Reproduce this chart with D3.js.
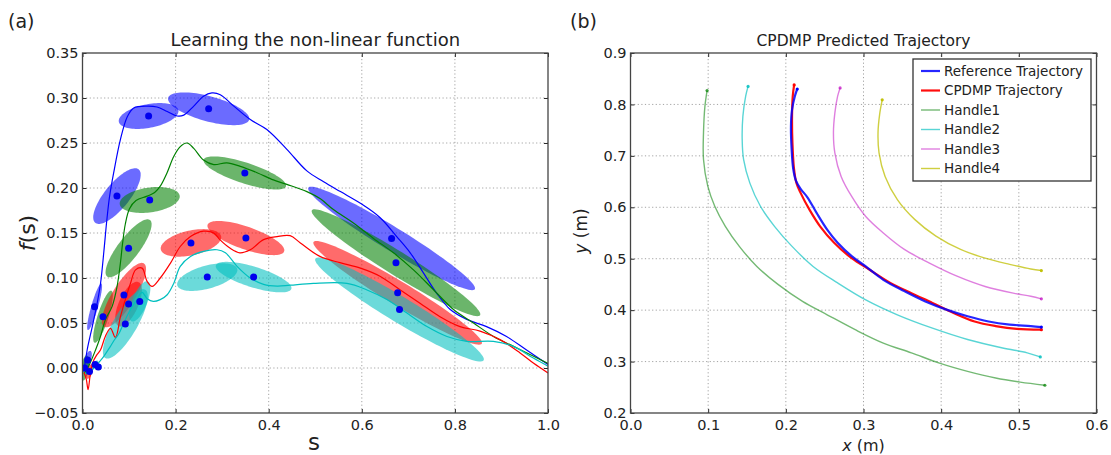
<!DOCTYPE html>
<html>
<head>
<meta charset="utf-8">
<script src="https://cdn.jsdelivr.net/npm/d3@7"></script>
<style>
    body { margin: 0; background: #fff; }
    text { font-family: "DejaVu Sans", sans-serif; fill: #222; }
</style>
</head>
<body>
<svg id="chart" width="1111" height="455"></svg>
<script>

// ---- panel (a): learned forcing terms, [s, f(s)] ----
const blueCurve = [[0.003,-0.004],[0.010,0.020],[0.021,0.046],[0.0315,0.072],[0.039,0.095],[0.046,0.13],[0.052,0.163],[0.058,0.19],[0.067,0.217],[0.0815,0.254],[0.096,0.279],[0.110,0.289],[0.139,0.291],[0.160,0.290],[0.182,0.285],[0.203,0.280],[0.2175,0.281],[0.239,0.291],[0.260,0.302],[0.278,0.3056],[0.296,0.3037],[0.325,0.291],[0.3605,0.276],[0.396,0.265],[0.439,0.243],[0.482,0.219],[0.518,0.207],[0.554,0.196],[0.597,0.183],[0.6395,0.167],[0.675,0.146],[0.704,0.128],[0.732,0.106],[0.761,0.083],[0.79,0.065],[0.8255,0.054],[0.868,0.046],[0.911,0.035],[0.954,0.020],[1.0,0.004]];
const greenCurve = [[0.004,-0.006],[0.015,0.004],[0.028,0.02],[0.0386,0.035],[0.0494,0.054],[0.0637,0.0685],[0.0744,0.091],[0.0815,0.117],[0.086,0.138],[0.092,0.160],[0.101,0.177],[0.115,0.186],[0.139,0.191],[0.155,0.195],[0.167,0.202],[0.1817,0.217],[0.196,0.235],[0.210,0.246],[0.2246,0.250],[0.239,0.244],[0.260,0.231],[0.282,0.226],[0.31,0.228],[0.339,0.224],[0.375,0.217],[0.41,0.209],[0.439,0.204],[0.482,0.196],[0.511,0.188],[0.539,0.176],[0.582,0.161],[0.625,0.144],[0.668,0.128],[0.711,0.109],[0.754,0.087],[0.797,0.065],[0.84,0.05],[0.883,0.035],[0.926,0.024],[0.969,0.013],[1.0,0.005]];
const redCurve = [[0.003,-0.005],[0.008,-0.012],[0.012,-0.024],[0.016,-0.01],[0.022,0.006],[0.03,0.014],[0.0386,0.020],[0.049,0.035],[0.06,0.044],[0.0708,0.034],[0.0815,0.057],[0.092,0.076],[0.103,0.094],[0.114,0.109],[0.128,0.111],[0.139,0.096],[0.1495,0.0907],[0.167,0.100],[0.189,0.1166],[0.210,0.135],[0.232,0.146],[0.260,0.152],[0.282,0.150],[0.295,0.1426],[0.3165,0.1333],[0.338,0.128],[0.3605,0.1314],[0.389,0.1426],[0.418,0.146],[0.446,0.147],[0.468,0.139],[0.51,0.124],[0.553,0.117],[0.597,0.111],[0.639,0.102],[0.682,0.087],[0.725,0.072],[0.768,0.057],[0.811,0.046],[0.854,0.041],[0.897,0.0315],[0.94,0.0167],[0.9685,0.0055],[1.0,-0.0055]];
const cyanCurve = [[0.006,-0.006],[0.015,-0.004],[0.025,0.0],[0.035,0.006],[0.0457,0.013],[0.06,0.024],[0.067,0.030],[0.078,0.038],[0.0886,0.05],[0.103,0.065],[0.117,0.076],[0.128,0.084],[0.139,0.077],[0.152,0.074],[0.167,0.076],[0.182,0.0814],[0.196,0.094],[0.210,0.113],[0.232,0.124],[0.260,0.1296],[0.289,0.1314],[0.307,0.128],[0.332,0.113],[0.3605,0.100],[0.389,0.093],[0.418,0.091],[0.446,0.092],[0.496,0.094],[0.568,0.094],[0.610,0.087],[0.654,0.076],[0.697,0.061],[0.740,0.046],[0.783,0.035],[0.8255,0.0296],[0.8826,0.0296],[0.9256,0.024],[0.9685,0.011],[1.0,0.002]];

// gaussian kernels: [centre s, centre f, major half-axis in s, major half-axis in f, minor/major ratio]
const blueGauss = [[0.142,0.280,0.064,0.0064,0.39],[0.271,0.288,0.087,-0.0122,0.30],[0.074,0.191,0.0466,0.0297,0.36],[0.026,0.068,0.0144,0.0259,0.14],[0.664,0.144,0.1788,-0.0564,0.12],[0.011,0.009,0.006,0.010,0.35]];
const greenGauss = [[0.1444,0.1867,0.0644,0.0047,0.41],[0.3487,0.2167,0.0884,-0.0148,0.24],[0.099,0.133,0.046,0.0314,0.30],[0.044,0.057,0.0179,0.0289,0.2],[0.6734,0.117,0.1807,-0.0583,0.12],[0.005,0.0,0.004,0.014,0.3]];
const redGauss = [[0.233,0.139,0.0648,0.0074,0.40],[0.351,0.1444,0.0822,-0.0148,0.28],[0.089,0.081,0.0429,0.0352,0.30],[0.099,0.071,0.0215,0.0244,0.4],[0.677,0.0835,0.1807,-0.0565,0.12],[0.015,-0.004,0.005,0.008,0.4]];
const cyanGauss = [[0.268,0.101,0.0644,0.0092,0.37],[0.3676,0.101,0.0811,-0.013,0.26],[0.092,0.049,0.0429,0.038,0.30],[0.123,0.074,0.0172,0.0222,0.35],[0.681,0.065,0.1807,-0.0565,0.13],[0.027,0.004,0.006,0.004,0.5],[0.034,0.001,0.005,0.003,0.6]];

// ---- panel (b): trajectories, [x, y] in metres ----
const refTraj = [[0.2147,0.830],[0.2116,0.816],[0.208,0.79],[0.2066,0.757],[0.2075,0.712],[0.2095,0.675],[0.213,0.652],[0.219,0.636],[0.228,0.619],[0.2396,0.589],[0.2532,0.5565],[0.2667,0.531],[0.2848,0.505],[0.3029,0.485],[0.3255,0.459],[0.3526,0.437],[0.3797,0.417],[0.4069,0.401],[0.434,0.388],[0.4611,0.378],[0.4882,0.372],[0.5154,0.369],[0.529,0.367]];
const cpdmpTraj = [[0.2107,0.838],[0.2089,0.816],[0.208,0.777],[0.2085,0.725],[0.2105,0.675],[0.2135,0.648],[0.219,0.628],[0.2306,0.595],[0.2441,0.563],[0.2622,0.531],[0.2848,0.501],[0.3074,0.479],[0.3345,0.453],[0.3617,0.433],[0.3888,0.414],[0.4159,0.3945],[0.443,0.378],[0.4702,0.369],[0.4973,0.3634],[0.529,0.362]];
const handle1 = [[0.0986,0.827],[0.0958,0.796],[0.094,0.745],[0.094,0.693],[0.0995,0.641],[0.1085,0.602],[0.1221,0.563],[0.1401,0.524],[0.1627,0.485],[0.1899,0.45],[0.2215,0.417],[0.2532,0.391],[0.2893,0.362],[0.3255,0.336],[0.3617,0.317],[0.3978,0.297],[0.434,0.281],[0.4702,0.268],[0.5018,0.26],[0.5335,0.254]];
const handle2 = [[0.1514,0.835],[0.1483,0.816],[0.1447,0.777],[0.1438,0.732],[0.1456,0.693],[0.1537,0.647],[0.1673,0.602],[0.1854,0.563],[0.208,0.524],[0.2351,0.485],[0.2667,0.453],[0.3029,0.42],[0.3436,0.391],[0.3888,0.365],[0.434,0.343],[0.4792,0.3265],[0.5108,0.317],[0.5276,0.309]];
const handle3 = [[0.2699,0.832],[0.2667,0.816],[0.2631,0.783],[0.2613,0.745],[0.2631,0.706],[0.2712,0.66],[0.2848,0.621],[0.3029,0.582],[0.3255,0.55],[0.3526,0.518],[0.3843,0.492],[0.4204,0.466],[0.4566,0.446],[0.4928,0.433],[0.5154,0.427],[0.529,0.422]];
const handle4 = [[0.3241,0.809],[0.321,0.783],[0.3187,0.745],[0.32,0.706],[0.3278,0.66],[0.3436,0.615],[0.3662,0.576],[0.3933,0.544],[0.425,0.518],[0.4566,0.501],[0.4882,0.489],[0.5154,0.48],[0.529,0.477]];
const legendLabels = ["Reference Trajectory", "CPDMP Trajectory", "Handle1", "Handle2", "Handle3", "Handle4"];


const svg = d3.select("#chart");

// frame, grid and inward ticks on all four sides, matplotlib classic look
function drawAxes(g, x, y, nx, ny, fmtX, fmtY) {
    const [x0, x1] = x.range();
    const [y0, y1] = y.range();

    const grid = g.append("g")
        .attr("stroke", "#9a9a9a")
        .attr("stroke-width", 0.9)
        .attr("stroke-dasharray", "1.2,2.4");
    grid.selectAll("line.gx")
        .data(x.ticks(nx).slice(1, -1))
        .enter().append("line")
        .attr("x1", d => x(d)).attr("x2", d => x(d))
        .attr("y1", y0).attr("y2", y1);
    grid.selectAll("line.gy")
        .data(y.ticks(ny).slice(1, -1))
        .enter().append("line")
        .attr("y1", d => y(d)).attr("y2", d => y(d))
        .attr("x1", x0).attr("x2", x1);

    const style = a => a
        .attr("font-size", 14.5)
        .attr("font-family", "DejaVu Sans")
        .attr("color", "#2a2a2a")
        .call(s => s.select(".domain").remove());

    g.append("g").attr("transform", `translate(0,${y0})`)
        .call(d3.axisBottom(x).ticks(nx).tickFormat(d3.format(fmtX)).tickSizeInner(-4).tickSizeOuter(0).tickPadding(7))
        .call(style);
    g.append("g").attr("transform", `translate(${x0},0)`)
        .call(d3.axisLeft(y).ticks(ny).tickFormat(d3.format(fmtY)).tickSizeInner(-4).tickSizeOuter(0).tickPadding(4))
        .call(style);
    g.append("g").attr("transform", `translate(0,${y1})`)
        .call(d3.axisTop(x).ticks(nx).tickFormat("").tickSizeInner(-4).tickSizeOuter(0))
        .call(style);
    g.append("g").attr("transform", `translate(${x1},0)`)
        .call(d3.axisRight(y).ticks(ny).tickFormat("").tickSizeInner(-4).tickSizeOuter(0))
        .call(style);
}

function drawFrame(g, x, y) {
    g.append("rect")
        .attr("x", x.range()[0]).attr("y", y.range()[1])
        .attr("width", x.range()[1] - x.range()[0])
        .attr("height", y.range()[0] - y.range()[1])
        .attr("fill", "none")
        .attr("stroke", "#444")
        .attr("stroke-width", 1.3);
}

// ================= panel (a) =================
const xA = d3.scaleLinear().domain([0, 1]).range([82.5, 548]);
const yA = d3.scaleLinear().domain([-0.05, 0.35]).range([413, 53]);

const seriesA = [
    { color: "#0000ff", curve: blueCurve, gauss: blueGauss },
    { color: "#008000", curve: greenCurve, gauss: greenGauss },
    { color: "#ff0000", curve: redCurve, gauss: redGauss },
    { color: "#00bfbf", curve: cyanCurve, gauss: cyanGauss }
];

const gA = svg.append("g");
drawAxes(gA, xA, yA, 5, 8, ".1f", ".2f");

svg.append("clipPath").attr("id", "clipA")
    .append("rect")
    .attr("x", xA.range()[0]).attr("y", yA.range()[1])
    .attr("width", xA.range()[1] - xA.range()[0])
    .attr("height", yA.range()[0] - yA.range()[1]);

const plotA = gA.append("g").attr("clip-path", "url(#clipA)");

function ellipsePath(e) {
    const [s, f, as, af, r] = e;
    const cx = xA(s), cy = yA(f);
    const ax = xA(s + as) - cx, ay = yA(f + af) - cy;
    const bx = -ay * r, by = ax * r;
    const pts = d3.range(0, 2 * Math.PI, Math.PI / 48)
        .map(t => [cx + Math.cos(t) * ax + Math.sin(t) * bx, cy + Math.cos(t) * ay + Math.sin(t) * by]);
    return d3.line().curve(d3.curveLinearClosed)(pts);
}

seriesA.forEach(d => {
    plotA.append("g").selectAll("path")
        .data(d.gauss)
        .enter().append("path")
        .attr("d", ellipsePath)
        .attr("fill", d.color)
        .attr("fill-opacity", 0.58)
        .attr("stroke", "none");
});

const lineA = d3.line()
    .x(d => xA(d[0]))
    .y(d => yA(d[1]))
    .curve(d3.curveCatmullRom.alpha(0.5));

seriesA.forEach(d => {
    plotA.append("path")
        .datum(d.curve)
        .attr("d", lineA)
        .attr("fill", "none")
        .attr("stroke", d.color)
        .attr("stroke-width", 1.2);
});

plotA.append("g").selectAll("circle")
    .data(seriesA.flatMap(d => d.gauss))
    .enter().append("circle")
    .attr("cx", d => xA(d[0]))
    .attr("cy", d => yA(d[1]))
    .attr("r", 3.5)
    .attr("fill", "#0000ee");

drawFrame(gA, xA, yA);

gA.append("text")
    .attr("x", (xA.range()[0] + xA.range()[1]) / 2)
    .attr("y", 46)
    .attr("text-anchor", "middle")
    .style("font-size", "18px")
    .text("Learning the non-linear function");

gA.append("text")
    .attr("x", 314).attr("y", 450)
    .attr("text-anchor", "middle")
    .style("font-size", "23px")
    .text("s");

gA.append("text")
    .attr("transform", "translate(35,233) rotate(-90)")
    .attr("text-anchor", "middle")
    .style("font-size", "22px")
    .call(t => {
        t.append("tspan").style("font-style", "italic").text("f");
        t.append("tspan").text("(s)");
    });

svg.append("text")
    .attr("x", 8).attr("y", 28)
    .style("font-size", "19px")
    .text("(a)");

// ================= panel (b) =================
const xB = d3.scaleLinear().domain([0, 0.6]).range([630.5, 1096.5]);
const yB = d3.scaleLinear().domain([0.2, 0.9]).range([413, 53]);

const seriesB = [
    { data: refTraj, color: "#0000ff", opacity: 0.85, width: 2.2 },
    { data: cpdmpTraj, color: "#ff0000", opacity: 0.95, width: 2.2 },
    { data: handle1, color: "#008000", opacity: 0.55, width: 1.4 },
    { data: handle2, color: "#00bfbf", opacity: 0.65, width: 1.4 },
    { data: handle3, color: "#bf00bf", opacity: 0.5, width: 1.4 },
    { data: handle4, color: "#bfbf00", opacity: 0.75, width: 1.4 }
];

const gB = svg.append("g");
drawAxes(gB, xB, yB, 6, 7, ".1f", ".1f");

const lineB = d3.line()
    .x(d => xB(d[0]))
    .y(d => yB(d[1]))
    .curve(d3.curveCatmullRom.alpha(0.5));

seriesB.slice().reverse().forEach(d => {
    gB.append("path")
        .datum(d.data)
        .attr("d", lineB)
        .attr("fill", "none")
        .attr("stroke", d.color)
        .attr("stroke-opacity", d.opacity)
        .attr("stroke-width", d.width);
    gB.append("g").selectAll("circle")
        .data([d.data[0], d.data[d.data.length - 1]])
        .enter().append("circle")
        .attr("cx", p => xB(p[0]))
        .attr("cy", p => yB(p[1]))
        .attr("r", 1.6)
        .attr("fill", d.color)
        .attr("fill-opacity", Math.min(1, d.opacity + 0.2));
});

drawFrame(gB, xB, yB);

gB.append("text")
    .attr("x", (xB.range()[0] + xB.range()[1]) / 2)
    .attr("y", 46)
    .attr("text-anchor", "middle")
    .style("font-size", "15.5px")
    .text("CPDMP Predicted Trajectory");

gB.append("text")
    .attr("x", (xB.range()[0] + xB.range()[1]) / 2)
    .attr("y", 451)
    .attr("text-anchor", "middle")
    .style("font-size", "16px")
    .call(t => {
        t.append("tspan").style("font-style", "italic").text("x");
        t.append("tspan").text(" (m)");
    });

gB.append("text")
    .attr("transform", "translate(587,231) rotate(-90)")
    .attr("text-anchor", "middle")
    .style("font-size", "17px")
    .call(t => {
        t.append("tspan").style("font-style", "italic").text("y");
        t.append("tspan").text(" (m)");
    });

svg.append("text")
    .attr("x", 570).attr("y", 28)
    .style("font-size", "19px")
    .text("(b)");

// legend
const legend = gB.append("g").attr("transform", "translate(913,59)");
legend.append("rect")
    .attr("width", 178).attr("height", 122)
    .attr("fill", "#fff")
    .attr("stroke", "#333")
    .attr("stroke-width", 1.3);

const rows = legend.selectAll("g.row")
    .data(seriesB.map((d, i) => ({ ...d, label: legendLabels[i] })))
    .enter().append("g")
    .attr("transform", (d, i) => `translate(0,${12 + i * 19.5})`);
rows.append("line")
    .attr("x1", 8).attr("x2", 27)
    .attr("stroke", d => d.color)
    .attr("stroke-opacity", d => d.opacity)
    .attr("stroke-width", d => d.width);
rows.append("text")
    .attr("x", 31)
    .attr("dy", "0.35em")
    .style("font-size", "13.5px")
    .text(d => d.label);

</script>
</body>
</html>
